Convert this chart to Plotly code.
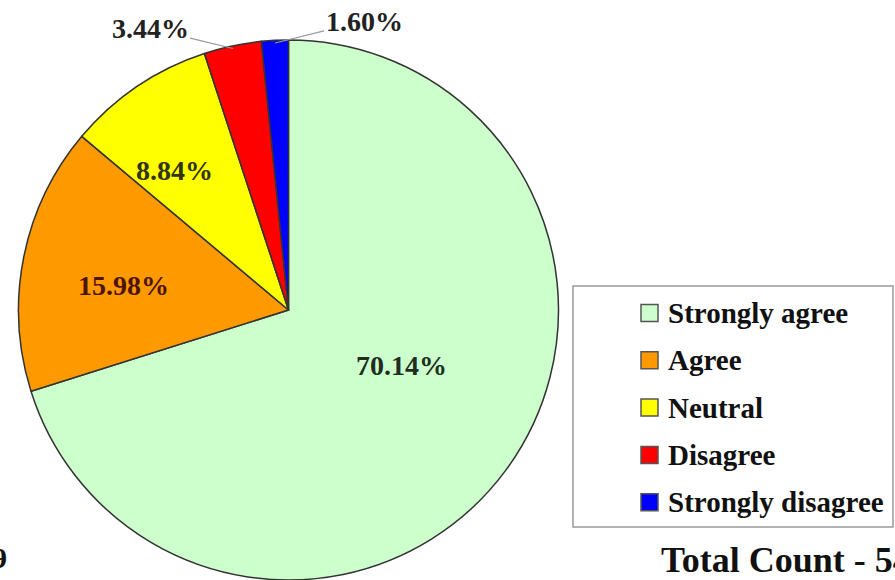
import math

import plotly.graph_objects as go

# data
categories = ["Strongly agree", "Agree", "Neutral", "Disagree", "Strongly disagree"]
percents = [70.14, 15.98, 8.84, 3.44, 1.60]
colors = ["#ccffcc", "#ff9900", "#ffff00", "#ff0000", "#0000ff"]
total_text = "Total Count - 54"
corner_text = "9"

W, H = 895, 580
FONT = "Liberation Serif"
# pie placement (pixels): centre and radius
CX, CY, R = 288.5, 310.0, 270.0

label_colors = ["#1f2e1f", "#4d1500", "#333300", "#222", "#222"]
# inside labels: pixel spot of each label's centre
inside_pos = {0: (401, 365), 1: (123, 285), 2: (174, 170)}
# outside labels: pixel offset of the label from its slice edge
outside_offsets = {3: (-83, -20), 4: (89, -22)}


def edge_point(i, frac=0.99):
    """Paper coords of the point at frac*R along slice i's bisector (clockwise from 12)."""
    total = sum(percents)
    start = sum(percents[:i]) / total
    ang = 2 * math.pi * (start + percents[i] / total / 2)
    px = CX + frac * R * math.sin(ang)
    py = CY - frac * R * math.cos(ang)
    return px / W, 1 - py / H


fig = go.Figure(go.Pie(
    labels=categories, values=percents, sort=False, direction="clockwise",
    marker=dict(colors=colors, line=dict(color="#333", width=1.5)),
    textinfo="none",
    domain=dict(x=[(CX - R) / W, (CX + R) / W], y=[1 - (CY + R) / H, 1 - (CY - R) / H]),
    showlegend=False, hoverinfo="label+percent",
))

for i, (px, py) in inside_pos.items():
    fig.add_annotation(x=px / W, y=1 - py / H, xref="paper", yref="paper",
                       xanchor="center", yanchor="middle",
                       showarrow=False, text=f"<b>{percents[i]:.2f}%</b>",
                       font=dict(family=FONT, size=28, color=label_colors[i]))

for i, (ax, ay) in outside_offsets.items():
    x, y = edge_point(i)
    fig.add_annotation(x=x, y=y, xref="paper", yref="paper", ax=ax, ay=ay,
                       text=f"<b>{percents[i]:.2f}%</b>", showarrow=True, arrowhead=0,
                       arrowwidth=1.2, arrowcolor="#999",
                       font=dict(family=FONT, size=28, color=label_colors[i]))

# legend box drawn by hand so the row spacing matches
box_x0, box_x1, box_y0, box_y1 = 573, 893, 286, 527
fig.add_shape(type="rect", xref="paper", yref="paper",
              x0=box_x0 / W, x1=box_x1 / W, y0=1 - box_y1 / H, y1=1 - box_y0 / H,
              line=dict(color="#999", width=1.5), fillcolor="white")
row0, row_gap, sq = 313, 47.3, 17
for i, (name, col) in enumerate(zip(categories, colors)):
    yc = row0 + i * row_gap
    fig.add_shape(type="rect", xref="paper", yref="paper",
                  x0=641 / W, x1=(641 + sq) / W,
                  y0=1 - (yc + sq / 2) / H, y1=1 - (yc - sq / 2) / H,
                  line=dict(color="#555", width=1.5), fillcolor=col)
    fig.add_annotation(x=666 / W, y=1 - yc / H, xref="paper", yref="paper",
                       xanchor="left", yanchor="middle", showarrow=False,
                       text=f"<b>{name}</b>", font=dict(family=FONT, size=29, color="#111"))

fig.add_annotation(x=659 / W, y=1 - 560 / H, xref="paper", yref="paper",
                   xanchor="left", yanchor="middle", showarrow=False,
                   text=f"<b>{total_text}</b>", font=dict(family=FONT, size=36, color="#111"))
fig.add_annotation(x=9 / W, y=1 - 557 / H, xref="paper", yref="paper",
                   xanchor="right", yanchor="middle", showarrow=False,
                   text=f"<b>{corner_text}</b>", font=dict(family=FONT, size=30, color="#111"))

fig.update_layout(width=W, height=H, margin=dict(l=0, r=0, t=0, b=0),
                  paper_bgcolor="white", plot_bgcolor="white", showlegend=False)
fig.write_html("out.html", config={"displayModeBar": False},
               post_script="document.body.style.margin='0';document.body.style.overflow='hidden';")
